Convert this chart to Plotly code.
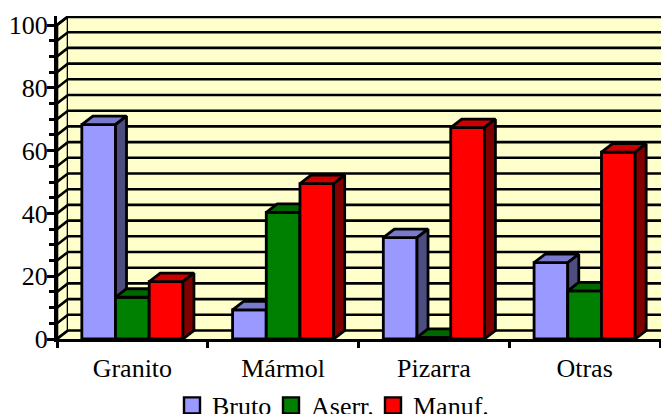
import plotly.graph_objects as go

categories = ["Granito", "Mármol", "Pizarra", "Otras"]
bruto = [68.3, 9.3, 32.3, 24.3]
aserr = [13.3, 40.3, 0.5, 15.3]
manuf = [18.3, 49.5, 67.3, 59.5]
series_names = ["Bruto", "Aserr.", "Manuf."]
grid_levels = list(range(0, 105, 5))
y_labels = [0, 20, 40, 60, 80, 100]

FRONT = ["#9999FF", "#008000", "#FF0000"]
TOP = ["#7A7ACC", "#006600", "#CC0000"]
SIDE = ["#4D4D80", "#004000", "#800000"]
WALL = "#FFFFCC"
FONT = "Liberation Serif"
EDGE = 2.8

W, H = 661, 414
L, R, T, B = 57, 0, 16, 75
px_per_cat = 150.75
px_per_val = 3.14
dx = 11 / px_per_cat      # oblique depth of the 3-D box, in axis units
dy = 8.5 / px_per_val
bw = 33.7 / px_per_cat    # bar width
xr = [0, (W - L - R) / px_per_cat]
yr = [0, (H - T - B) / px_per_val]
centers = [i + 0.5 for i in range(len(categories))]

fig = go.Figure()

# walls and floor on the base axes
fig.add_trace(go.Scatter(x=[0, dx, dx, 0, 0], y=[0, dy, 100 + dy, 100, 0], mode="lines", fill="toself",
                         fillcolor=WALL, line=dict(color="black", width=2.6), cliponaxis=False,
                         hoverinfo="skip", showlegend=False))
fig.add_trace(go.Scatter(x=[dx, 4 + dx, 4 + dx, dx, dx], y=[dy, dy, 100 + dy, 100 + dy, dy], mode="lines",
                         fill="toself", fillcolor=WALL, line=dict(color="black", width=0), cliponaxis=False,
                         hoverinfo="skip", showlegend=False))
fig.add_trace(go.Scatter(x=[0, 4, 4 + dx, dx, 0], y=[0, 0, dy, dy, 0], mode="lines", fill="toself",
                         fillcolor=WALL, line=dict(color="black", width=0), cliponaxis=False,
                         hoverinfo="skip", showlegend=False))
gx, gy = [], []
for v in grid_levels:
    gx += [0, dx, 4 + dx, None]
    gy += [v, v + dy, v + dy, None]
fig.add_trace(go.Scatter(x=gx, y=gy, mode="lines", line=dict(color="black", width=2.6), cliponaxis=False,
                         hoverinfo="skip", showlegend=False))
fig.add_trace(go.Scatter(x=[dx, 4 + dx], y=[100 + dy, 100 + dy], mode="lines", line=dict(color="black", width=3.4),
                         cliponaxis=False, hoverinfo="skip", showlegend=False))

# one overlaid axis pair per series so that faces stack back to front
all_values = [bruto, aserr, manuf]
for s, vals in enumerate(all_values):
    n = s + 2
    xa, ya = f"x{n}", f"y{n}"
    off = -1.5 * bw + s * bw
    fig.add_trace(go.Bar(x=centers, y=vals, width=bw, offset=off, xaxis=xa, yaxis=ya, name=series_names[s],
                         marker=dict(color=FRONT[s], line=dict(color="black", width=EDGE)),
                         cliponaxis=False, showlegend=False))
    for c, v in zip(centers, vals):
        x0 = c + off
        x1 = x0 + bw
        fig.add_trace(go.Scatter(x=[x0, x1, x1 + dx, x0 + dx, x0], y=[v, v, v + dy, v + dy, v], xaxis=xa, yaxis=ya,
                                 mode="lines", fill="toself", fillcolor=TOP[s],
                                 line=dict(color="black", width=EDGE), cliponaxis=False,
                                 hoverinfo="skip", showlegend=False))
        fig.add_trace(go.Scatter(x=[x1, x1 + dx, x1 + dx, x1, x1], y=[0, dy, v + dy, v, 0], xaxis=xa, yaxis=ya,
                                 mode="lines", fill="toself", fillcolor=SIDE[s],
                                 line=dict(color="black", width=EDGE), cliponaxis=False,
                                 hoverinfo="skip", showlegend=False))

# legend entries, one small legend per series so each sits at its own place
legend_lefts = [172, 271, 373]
legend_ids = ["legend", "legend2", "legend3"]
for s, name in enumerate(series_names):
    fig.add_trace(go.Scatter(x=[None], y=[None], mode="markers", name=name, legend=legend_ids[s],
                             marker=dict(symbol="square", size=16, color=FRONT[s],
                                         line=dict(color="black", width=2.4))))

fig.update_layout(
    width=W, height=H, margin=dict(l=L, r=R, t=T, b=B, autoexpand=False),
    paper_bgcolor="white", plot_bgcolor="white",
    font=dict(family=FONT, size=26, color="black"),
    hovermode=False,
    xaxis=dict(range=xr, tickvals=centers, ticktext=categories, ticks="outside", ticklen=4,
               tickcolor="rgba(0,0,0,0)", showgrid=False, zeroline=False, showline=True,
               linecolor="black", linewidth=3,
               tickfont=dict(family=FONT, size=26),
               minor=dict(tickvals=[0, 1, 2, 3, 4], ticks="outside", ticklen=6, tickwidth=2.5,
                          tickcolor="black", showgrid=False)),
    yaxis=dict(range=yr, tickvals=y_labels, ticks="outside", ticklen=7, tickwidth=3, tickcolor="black",
               ticklabelstandoff=-6,
               showgrid=False, zeroline=False, showline=True, linecolor="black", linewidth=3,
               tickfont=dict(family=FONT, size=26),
               minor=dict(tickvals=grid_levels, ticks="outside", ticklen=5, tickwidth=2.5,
                          tickcolor="black", showgrid=False)),
)
for lid, left in zip(legend_ids, legend_lefts):
    fig.update_layout({lid: dict(orientation="h", x=(left - L) / (W - L - R), xanchor="left", y=-0.133, yanchor="top",
                                 font=dict(family=FONT, size=26),
                                 bgcolor="rgba(0,0,0,0)", itemclick=False, itemdoubleclick=False)})
for n in (2, 3, 4):
    fig.update_layout({
        f"xaxis{n}": dict(range=xr, overlaying="x", visible=False),
        f"yaxis{n}": dict(range=yr, overlaying="y", visible=False),
    })

fig.write_html("out.html", config=dict(displayModeBar=False),
               post_script="document.body.style.margin='0';document.body.style.overflow='hidden';")
